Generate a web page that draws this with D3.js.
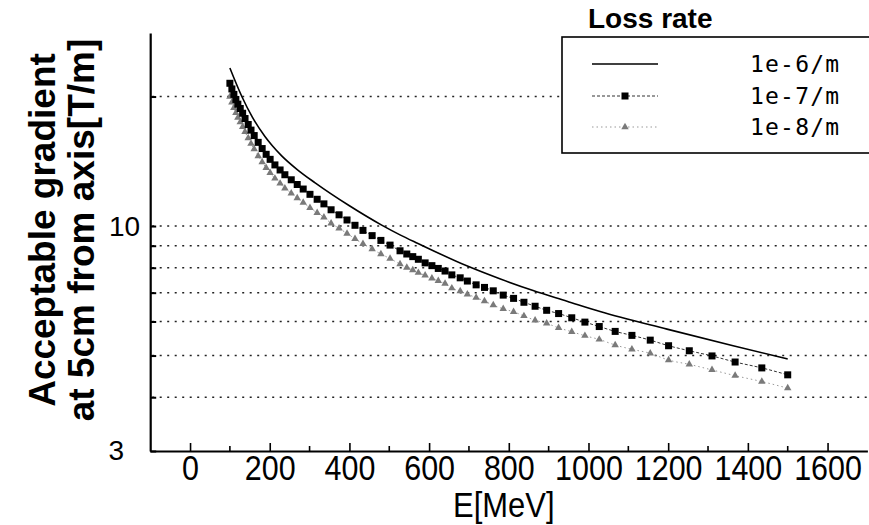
<!DOCTYPE html>
<html>
<head>
<meta charset="utf-8">
<script src="https://cdn.jsdelivr.net/npm/d3@7"></script>
<style>
  html, body { margin: 0; padding: 0; background: #fff; }
  #chart { width: 869px; height: 525px; }
</style>
</head>
<body>
<div id="chart"></div>
<script>
// 1e-6/m: solid line
const energySolid = [100, 130, 156, 188, 206, 230, 269, 314, 399, 481, 527, 572, 696, 779, 861, 946, 1029, 1197, 1363, 1500];
const gradient1e6 = [23.3, 20.0, 17.93, 16.15, 15.39, 14.56, 13.53, 12.6, 11.16, 10.05, 9.54, 9.11, 8.07, 7.53, 7.08, 6.69, 6.33, 5.76, 5.27, 4.91];

// 1e-7/m and 1e-8/m share the same marker energies
const energyMarked = [100, 105, 110, 115, 120, 126, 132, 138, 146, 153, 161, 171, 181, 191, 201, 213,
  226, 238, 254, 269, 284, 301, 319, 336, 354, 374, 394, 414, 434, 457, 479, 502,
  527, 544, 559, 573, 590, 607, 623, 640, 657, 678, 696, 718, 739, 761, 786, 812,
  838, 866, 895, 925, 958, 991, 1027, 1067, 1109, 1155, 1201, 1253, 1310, 1368, 1435, 1500];
const gradient1e7 = [21.47, 20.83, 20.23, 19.69, 19.20, 18.76, 18.29, 17.78, 17.22, 16.71, 16.23, 15.65, 15.14, 14.68, 14.29, 13.87,
  13.50, 13.16, 12.81, 12.49, 12.19, 11.85, 11.54, 11.26, 10.91, 10.62, 10.33, 10.04, 9.77, 9.50, 9.26, 9.03,
  8.76, 8.61, 8.49, 8.37, 8.21, 8.09, 7.97, 7.86, 7.70, 7.58, 7.45, 7.30, 7.20, 7.07, 6.91, 6.79,
  6.65, 6.51, 6.37, 6.26, 6.12, 5.98, 5.84, 5.69, 5.57, 5.43, 5.27, 5.13, 4.99, 4.83, 4.68, 4.51];
const gradient1e8 = [19.98, 19.38, 18.82, 18.32, 17.86, 17.45, 17.01, 16.55, 16.02, 15.54, 15.09, 14.55, 14.09, 13.66, 13.30, 12.90,
  12.56, 12.24, 11.92, 11.62, 11.34, 11.02, 10.73, 10.48, 10.15, 9.88, 9.61, 9.34, 9.09, 8.84, 8.61, 8.40,
  8.16, 8.01, 7.90, 7.79, 7.68, 7.56, 7.46, 7.35, 7.17, 7.06, 6.94, 6.82, 6.69, 6.55, 6.42, 6.32,
  6.18, 6.04, 5.94, 5.80, 5.68, 5.56, 5.45, 5.29, 5.17, 5.06, 4.88, 4.77, 4.63, 4.49, 4.35, 4.20];

const seriesLabels = ["1e-6/m", "1e-7/m", "1e-8/m"];
const xMajorTicks = [0, 200, 400, 600, 800, 1000, 1200, 1400, 1600];
const xMinorTicks = [100, 300, 500, 700, 900, 1100, 1300, 1500];
const yTicks = [3, 4, 5, 6, 7, 8, 9, 10, 20];
const yLabelled = [3, 10];
const yGrid = [4, 5, 6, 7, 8, 9, 10, 20];

const width = 869;
const height = 525;
const sans = '"Liberation Sans", Arial, sans-serif';

const x = d3.scaleLinear().domain([-100, 1700]).range([150.2, 867.4]);
const y = d3.scaleLog().domain([3, 28.1]).range([451, 33]);
const x0 = x(-100);

const svg = d3.create("svg")
    .attr("width", width)
    .attr("height", height)
    .attr("viewBox", [0, 0, width, height])
    .style("background", "#fff");

// dotted grid
svg.append("g")
    .attr("stroke", "#222")
    .attr("stroke-width", 1.6)
    .attr("stroke-dasharray", "2 5.5")
    .selectAll()
    .data(yGrid)
    .join("line")
    .attr("x1", x0 + 2)
    .attr("x2", width)
    .attr("y1", d => y(d))
    .attr("y2", d => y(d));

const solid = energySolid.map((e, i) => [e, gradient1e6[i]]);
const sq = energyMarked.map((e, i) => [e, gradient1e7[i]]);
const tri = energyMarked.map((e, i) => [e, gradient1e8[i]]);

const line = d3.line()
    .x(d => x(d[0]))
    .y(d => y(d[1]))
    .curve(d3.curveMonotoneX);

const triSymbol = d3.symbol(d3.symbolTriangle).size(24);

// 1e-8
svg.append("path")
    .attr("d", line(tri))
    .attr("fill", "none")
    .attr("stroke", "#999")
    .attr("stroke-width", 1)
    .attr("stroke-dasharray", "1.5 3");
svg.append("g")
    .attr("fill", "#7a7a7a")
    .selectAll()
    .data(tri)
    .join("path")
    .attr("d", triSymbol)
    .attr("transform", d => `translate(${x(d[0])},${y(d[1])})`);

// 1e-7
svg.append("path")
    .attr("d", line(sq))
    .attr("fill", "none")
    .attr("stroke", "#333")
    .attr("stroke-width", 1)
    .attr("stroke-dasharray", "3 2");
svg.append("g")
    .attr("fill", "#000")
    .selectAll()
    .data(sq)
    .join("rect")
    .attr("x", d => x(d[0]) - 3.5)
    .attr("y", d => y(d[1]) - 3.5)
    .attr("width", 7)
    .attr("height", 7);

// 1e-6
svg.append("path")
    .attr("d", line(solid))
    .attr("fill", "none")
    .attr("stroke", "#000")
    .attr("stroke-width", 1.6);

// axes
const xAxis = svg.append("g")
    .attr("transform", `translate(0,${y(3)})`)
    .call(d3.axisBottom(x).tickValues(xMajorTicks).tickFormat(d3.format("d"))
        .tickSize(-8).tickPadding(4).tickSizeOuter(0));
xAxis.select(".domain").attr("stroke-width", 2.2);
xAxis.selectAll(".tick line").attr("stroke-width", 1.6);
xAxis.selectAll(".tick text")
    .attr("font-family", sans)
    .attr("font-size", 35)
    .attr("fill", "#000")
    .attr("transform", "scale(0.87,1)");

svg.append("g")
    .attr("stroke", "#000")
    .attr("stroke-width", 1.6)
    .selectAll()
    .data(xMinorTicks)
    .join("line")
    .attr("x1", d => x(d))
    .attr("x2", d => x(d))
    .attr("y1", y(3))
    .attr("y2", y(3) - 5);

const yAxis = svg.append("g")
    .attr("transform", `translate(${x0},0)`)
    .call(d3.axisLeft(y).tickValues(yTicks).tickSize(-6).tickPadding(10).tickSizeOuter(0)
        .tickFormat(d => yLabelled.includes(d) ? d : ""));
yAxis.select(".domain").attr("stroke-width", 2.2);
yAxis.selectAll(".tick line").attr("stroke-width", 2);
yAxis.selectAll(".tick text")
    .attr("font-family", sans)
    .attr("font-size", 28)
    .attr("fill", "#000")
    .attr("dx", d => d === 3 ? -16 : 0);

// axis titles
svg.append("text")
    .attr("transform", `translate(${x(800) - 5},517) scale(0.86,1)`)
    .attr("text-anchor", "middle")
    .attr("font-family", sans)
    .attr("font-size", 36)
    .text("E[MeV]");

const yTitle = ["Acceptable gradient", "at 5cm from axis[T/m]"];
svg.append("g")
    .selectAll()
    .data(yTitle)
    .join("text")
    .attr("transform", (d, i) => `translate(${55 + i * 39},230) rotate(-90)`)
    .attr("text-anchor", "middle")
    .attr("font-family", sans)
    .attr("font-weight", "bold")
    .attr("font-size", 37)
    .text(d => d);

// legend
const legend = svg.append("g");
legend.append("text")
    .attr("x", 588)
    .attr("y", 28)
    .attr("font-family", sans)
    .attr("font-weight", "bold")
    .attr("font-size", 28)
    .text("Loss rate");
legend.append("rect")
    .attr("x", 562)
    .attr("y", 37)
    .attr("width", 340)
    .attr("height", 116)
    .attr("fill", "#fff")
    .attr("stroke", "#000")
    .attr("stroke-width", 1.6);

const rowY = [64, 96, 127];
const rows = legend.selectAll(".row")
    .data(seriesLabels)
    .join("g")
    .attr("transform", (d, i) => `translate(0,${rowY[i]})`);
rows.append("line")
    .attr("x1", 592)
    .attr("x2", 658)
    .attr("stroke", (d, i) => ["#000", "#333", "#999"][i])
    .attr("stroke-width", (d, i) => i === 0 ? 1.6 : 1)
    .attr("stroke-dasharray", (d, i) => ["none", "3 2", "1.5 3"][i]);
rows.filter((d, i) => i === 1).append("rect")
    .attr("x", 621.5).attr("y", -3.5).attr("width", 7).attr("height", 7);
rows.filter((d, i) => i === 2).append("path")
    .attr("d", triSymbol)
    .attr("fill", "#7a7a7a")
    .attr("transform", "translate(625,0)");
rows.append("text")
    .attr("x", 750)
    .attr("dy", "0.36em")
    .attr("font-family", '"DejaVu Sans Mono", "Liberation Mono", monospace')
    .attr("font-size", 23)
    .attr("letter-spacing", 1.2)
    .text(d => d);

d3.select("#chart").append(() => svg.node());
</script>
</body>
</html>
